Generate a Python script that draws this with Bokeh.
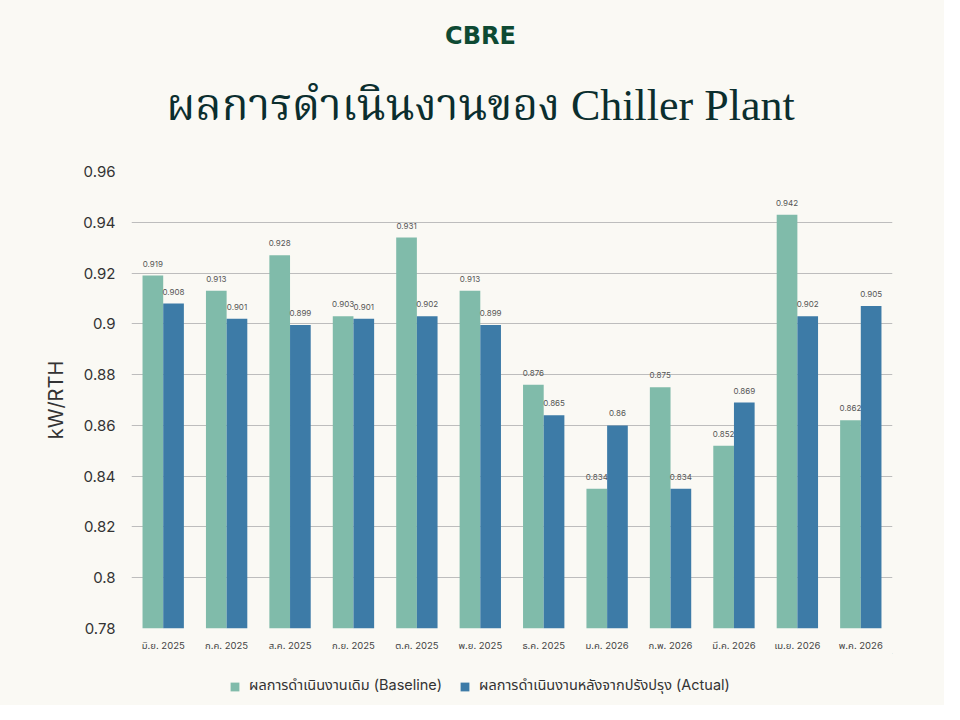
from bokeh.plotting import figure
from bokeh.layouts import column
from bokeh.models import FactorRange, Range1d, Label, Legend, LegendItem, ColumnDataSource
from bokeh.transform import dodge
from bokeh.core.properties import value
from bokeh.embed import file_html
from bokeh.resources import INLINE

months = ["มิ.ย. 2025", "ก.ค. 2025", "ส.ค. 2025", "ก.ย. 2025", "ต.ค. 2025", "พ.ย. 2025",
          "ธ.ค. 2025", "ม.ค. 2026", "ก.พ. 2026", "มี.ค. 2026", "เม.ย. 2026", "พ.ค. 2026"]
# bar heights as drawn
baseline = [0.919, 0.913, 0.927, 0.903, 0.934, 0.913, 0.876, 0.835, 0.875, 0.852, 0.943, 0.862]
actual = [0.908, 0.902, 0.8995, 0.902, 0.903, 0.8995, 0.864, 0.860, 0.835, 0.869, 0.903, 0.907]
# labels as printed
baseline_txt = ["0.919", "0.913", "0.928", "0.903", "0.931", "0.913",
                "0.876", "0.834", "0.875", "0.852", "0.942", "0.862"]
actual_txt = ["0.908", "0.901", "0.899", "0.901", "0.902", "0.899",
              "0.865", "0.86", "0.834", "0.869", "0.902", "0.905"]
series_names = ["ผลการดำเนินงานเดิม (Baseline)", "ผลการดำเนินงานหลังจากปรังปรุง (Actual)"]

BG = "#FAF9F4"
C_BASE = "#80BBAA"
C_ACT = "#3D7BA7"
SANS = "Inter, 'Noto Sans Thai', 'Noto Sans', sans-serif"

src = ColumnDataSource(dict(month=months, base=baseline, act=actual,
                            base_txt=baseline_txt, act_txt=actual_txt))

# header strip: logo text + title
hd = figure(width=944, height=130, x_range=Range1d(0, 1), y_range=Range1d(0, 1),
            output_backend="svg", toolbar_location=None, x_axis_type=None, y_axis_type=None,
            background_fill_color=BG, border_fill_color=BG, min_border=0)
hd.outline_line_color = None
hd.grid.visible = False
hd.add_layout(Label(x=349, y=95, x_units="screen", y_units="screen", text="CBRE",
                    text_align="center", text_baseline="middle",
                    text_font="'DejaVu Sans', sans-serif", text_font_size="24px",
                    text_font_style="bold", text_color="#0E4A33"))
hd.add_layout(Label(x=349, y=25, x_units="screen", y_units="screen",
                    text="ผลการดำเนินงานของ Chiller Plant", text_align="center", text_baseline="middle",
                    text_font="'Liberation Serif', 'Noto Serif Thai', serif", text_font_size="44px",
                    text_color="#0B2E2E"))

p = figure(frame_width=761, frame_height=457, x_range=FactorRange(*months), y_range=Range1d(0.78, 0.96),
           output_backend="svg", toolbar_location=None,
           background_fill_color=BG, border_fill_color=BG,
           min_border_left=131, min_border_right=52, min_border_bottom=24, min_border_top=41)
p.outline_line_color = None

p.vbar(x=dodge("month", -0.163, range=p.x_range), top="base", bottom=0.78, width=0.326,
       source=src, fill_color=C_BASE, line_color=None)
p.vbar(x=dodge("month", 0.163, range=p.x_range), top="act", bottom=0.78, width=0.326,
       source=src, fill_color=C_ACT, line_color=None)

p.text(x=dodge("month", -0.163, range=p.x_range), y="base", text="base_txt", source=src,
       text_font=value(SANS), text_font_size="8px", text_color="#555555",
       text_align="center", text_baseline="bottom", y_offset=-9)
p.text(x=dodge("month", 0.163, range=p.x_range), y="act", text="act_txt", source=src,
       text_font=value(SANS), text_font_size="8px", text_color="#555555",
       text_align="center", text_baseline="bottom", y_offset=-9)

p.xgrid.grid_line_color = None
p.ygrid.grid_line_color = "#BDBDBD"
p.ygrid.grid_line_width = 1
p.yaxis.ticker = [0.78, 0.8, 0.82, 0.84, 0.86, 0.88, 0.9, 0.92, 0.94, 0.96]
p.yaxis.major_label_overrides = {0.8: "0.8", 0.9: "0.9"}

for ax in (p.xaxis, p.yaxis):
    ax.axis_line_color = None
    ax.major_tick_line_color = None
    ax.minor_tick_line_color = None
    ax.major_tick_out = 0
    ax.major_tick_in = 0
    ax.minor_tick_out = 0

p.xaxis.major_label_text_font = SANS
p.xaxis.major_label_text_font_size = "9.5px"
p.xaxis.major_label_text_color = "#444444"
p.xaxis.major_label_standoff = 11

p.yaxis.major_label_text_font = SANS
p.yaxis.major_label_text_font_size = "15px"
p.yaxis.major_label_text_color = "#333333"
p.yaxis.major_label_standoff = 16
p.yaxis.axis_label = "kW/RTH"
p.yaxis.axis_label_text_font = SANS
p.yaxis.axis_label_text_font_size = "20px"
p.yaxis.axis_label_text_font_style = "normal"
p.yaxis.axis_label_text_color = "#333333"
p.yaxis.axis_label_standoff = 12

# legend strip under the chart (its frame lines up with the chart frame)
lg = figure(width=944, height=52, x_range=Range1d(0, 1), y_range=Range1d(0, 1),
            output_backend="svg", toolbar_location=None, x_axis_type=None, y_axis_type=None,
            background_fill_color=BG, border_fill_color=BG, min_border=0)
lg.outline_line_color = None
lg.grid.visible = False
k1 = lg.vbar(x=[5], top=[5], bottom=[4], width=0.1, fill_color=C_BASE, line_color=None)
k2 = lg.vbar(x=[5], top=[5], bottom=[4], width=0.1, fill_color=C_ACT, line_color=None)
legend = Legend(items=[LegendItem(label=series_names[0], renderers=[k1]),
                       LegendItem(label=series_names[1], renderers=[k2])],
                orientation="horizontal", location=(98, 8),
                background_fill_alpha=0, border_line_color=None,
                label_text_font=SANS, label_text_font_size="14.5px", label_text_color="#333333",
                label_height=15, glyph_width=11, glyph_height=11, label_standoff=9,
                spacing=17, margin=0, padding=0)
lg.add_layout(legend, "center")

page = column(hd, p, lg, spacing=0, background=BG)
open("out.html", "w").write(file_html(page, INLINE))
